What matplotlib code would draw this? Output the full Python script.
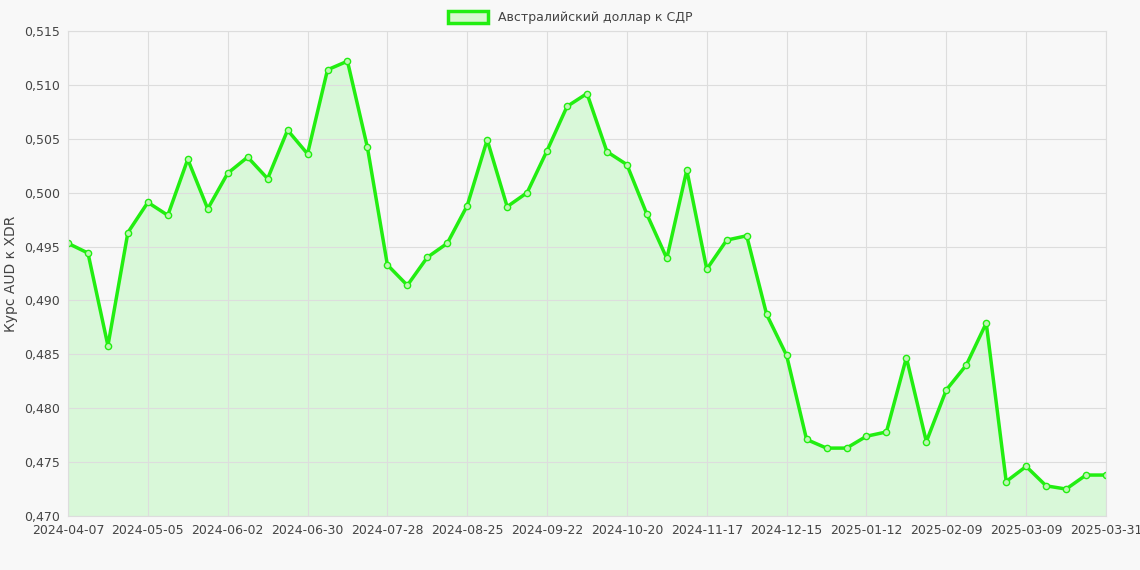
import matplotlib
matplotlib.use("Agg")
import matplotlib.pyplot as plt
import datetime as dt

values = [0.4953,0.4944,0.4858,0.4963,0.4991,0.4979,0.5031,0.4985,0.5018,0.5033,
          0.5013,0.5058,0.5036,0.5114,0.5122,0.5042,0.4933,0.4914,0.4940,0.4953,
          0.4988,0.5049,0.4987,0.5000,0.5039,0.5080,0.5092,0.5038,0.5026,0.4980,
          0.4939,0.5021,0.4929,0.4956,0.4960,0.4887,0.4849,0.4771,0.4763,0.4763,
          0.4774,0.4778,0.4847,0.4769,0.4817,0.4840,0.4879,0.4732,0.4746,0.4728,
          0.4725,0.4738,0.4738]
start = dt.date(2024, 4, 7)
dates = [(start + dt.timedelta(days=7*i)).isoformat() for i in range(len(values)-1)] + ["2025-03-31"]
label = "Австралийский доллар к СДР"
ylabel = "Курс AUD к XDR"

bg = "#f8f8f8"
fig = plt.figure(figsize=(11.4, 5.7), dpi=100, facecolor=bg)
ax = fig.add_axes([68/1140, 1-516/570, (1106-68)/1140, (516-31)/570], facecolor=bg)
x = list(range(len(values)))
ax.fill_between(x, values, 0.47, color="#00ff00", alpha=0.12, linewidth=0)
ax.plot(x, values, color="#22ee11", lw=2.5, marker="o", ms=4.5, mfc="#bff5b5", mec="#22ee11", mew=1.0, label=label)
ax.set_xlim(0, len(values)-1)
ax.set_ylim(0.470, 0.515)
ticks = list(range(0, 49, 4)) + [len(values)-1]
ax.set_xticks(ticks)
ax.set_xticklabels([dates[i] for i in ticks])
yt = [0.470 + 0.005*i for i in range(10)]
ax.set_yticks(yt)
ax.set_yticklabels([f"{v:.3f}".replace(".", ",") for v in yt])
ax.tick_params(colors="#666666", labelsize=9, length=0, pad=6)
for lab in ax.get_xticklabels() + ax.get_yticklabels():
    lab.set_color("#444444")
ax.grid(True, color="#dddddd", lw=0.8)
for s in ax.spines.values():
    s.set_color("#dddddd")
ax.set_ylabel(ylabel, color="#444444", fontsize=10)
from matplotlib.patches import Patch
leg = fig.legend(handles=[Patch(facecolor="#d8f8d0", edgecolor="#22ee11", lw=2.5, label=label)],
                 loc="upper center", bbox_to_anchor=(0.5, 1.0), frameon=False, fontsize=9,
                 handlelength=3.2, handleheight=1.0)
for t in leg.get_texts():
    t.set_color("#444444")
fig.savefig("out.png", dpi=100, facecolor=bg)
